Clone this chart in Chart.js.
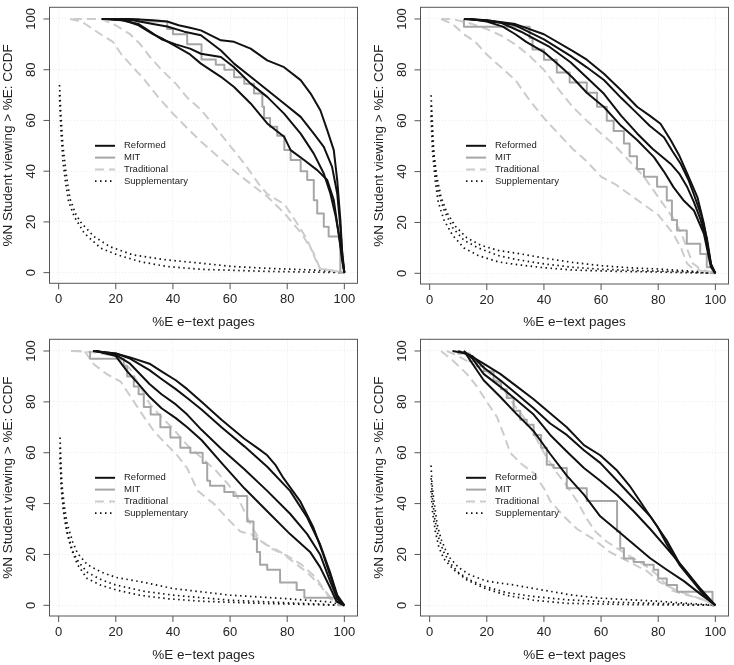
<!DOCTYPE html>
<html lang="en">
<head>
<meta charset="UTF-8">
<title>CCDF of e-text pages viewed</title>
<script src="https://cdn.jsdelivr.net/npm/chart.js"></script>
<style>
  html, body { margin: 0; padding: 0; background: #fff; }
  .page { position: relative; width: 734px; height: 665px; }
  .panel { position: absolute; }
</style>
</head>
<body>
<div class="page">
  <div class="panel" style="left:0;top:0"><canvas id="p1" width="367" height="332"></canvas></div>
  <div class="panel" style="left:367px;top:0"><canvas id="p2" width="367" height="332"></canvas></div>
  <div class="panel" style="left:0;top:332px"><canvas id="p3" width="367" height="333"></canvas></div>
  <div class="panel" style="left:367px;top:332px"><canvas id="p4" width="367" height="333"></canvas></div>
</div>
<script>
// axes
const xTicks = [0, 20, 40, 60, 80, 100];
const yTicks = [0, 20, 40, 60, 80, 100];
const seriesNames = ['Reformed', 'MIT', 'Traditional', 'Supplementary'];
const xTitle = '%E e\u2212text pages';
const yTitle = '%N Student viewing > %E: CCDF';

// ---- panel 1 (top left), points are [%E, %N] ----
const p1Ref1 = [[15,100],[25,100],[33,99.5],[38,99],[42,97.5],[46,96.5],[49.8,95.5],[56.8,91.6],[61.4,91],[67.2,88.3],[73,83.7],[78.9,81],[84.7,75.9],[88.2,70.6],[91.6,64],[94,56.2],[96.3,48.3],[97.5,36.5],[98.6,20.8],[99.2,8.9],[100,0]];
const p1Ref2 = [[18,100],[26,99.5],[33,98],[38,97],[44,95],[49.8,93.6],[56.8,87.6],[61.4,82.4],[67.2,77.2],[73,72],[78.9,66.7],[84.7,61.4],[89.3,54.8],[92.8,49.6],[95.7,41.7],[97.5,31.2],[98.6,18],[99.3,6],[100,0]];
const p1Ref3 = [[16,100],[22,99.5],[28,98],[32,95],[36,92],[41,90],[46,88.3],[49.8,86.3],[56.8,85],[61.4,81],[67.2,74.5],[73,69.3],[78.9,62.7],[84.7,54.8],[89.3,46.9],[92.8,39.1],[95.1,31.2],[97,22],[98.5,12],[100,0]];
const p1Ref4 = [[17,100],[23,99.5],[28,97.5],[33,94],[36.7,92],[41.4,89],[46,86],[49.8,82.4],[56.8,77.2],[61.4,73.2],[67.2,66.7],[73,58.8],[78.9,53.6],[81.2,48.3],[85.9,44.4],[90.5,40.4],[94,36.5],[96.3,28.6],[98,15.5],[99.2,5],[100,0]];
const p1Mit1 = [[15,100],[28,100],[38,99],[40,96],[45,94],[50,90],[55,84],[58,82],[61.4,80],[65,77],[68.4,74.5],[71.3,70.6],[71.9,65.4],[74,61],[76.5,57.5],[79,54],[81.2,48.3],[84.7,44.4],[87,40],[89.3,36.5],[90.5,28.5],[92.8,23.3],[94.5,18.1],[95.7,14.2],[98.6,14.2],[100,0]];
const p1Trad1 = [[5,100],[15,100],[20,97.5],[25,94],[28.6,90],[32,85],[36,80],[41,74.5],[45,69],[50,64],[55,57],[60,50],[65,43],[70,35],[73,31],[79,27],[83.5,19.4],[87,13],[90,5],[91.5,1.5],[95,1],[100,0]];
const p1Trad2 = [[4,100],[8,99],[12,96],[16,93],[19,91],[22,86],[26,81],[29.7,76.5],[35,69],[40,62.7],[45,57],[50,51.5],[57,44.5],[64,37.8],[73,30],[79,23.4],[85,15.5],[89.3,7.6],[91.5,1.5],[95,1],[100,0]];
const p1Supp1 = [[0.3,74],[0.8,62],[1.5,50],[2.5,40],[4,29],[6,23],[8,19.5],[12.4,14.2],[18,10.2],[26,7],[38,5],[50,3.7],[61,2.4],[73,1.7],[90,1],[100,0]];
const p1Supp2 = [[0.3,70],[0.8,56],[1.5,44],[2.5,35],[3.5,28],[5.5,22],[9,15.5],[14.8,9.6],[20.6,7],[28.7,4.3],[38,2.4],[50,1.3],[73,0.5],[100,0]];

// ---- panel 2 (top right) ----
const p2Ref1 = [[12,100],[20,99.5],[30,98],[40,94],[50,87.5],[55,84],[61,78.5],[67,72],[72.7,65.4],[77,62],[80.8,58.8],[84.4,52.3],[87.5,46],[90.2,39.1],[93.7,30],[96,19.5],[98.4,3.7],[100,0]];
const p2Ref2 = [[12,100],[20,99.5],[30,97.5],[40,92],[49.3,85.5],[55,81],[61,76],[67,69],[72.7,62.8],[77,58],[82,53.5],[85,48],[87.9,43],[90.5,37],[92.5,31],[95,23],[97,14],[98.6,3],[100,0]];
const p2Ref3 = [[14,100],[25,98.5],[32,95],[37,92],[42,89],[49.3,83],[55,77],[61,70.6],[67,62],[72.7,54.9],[78,49],[84.4,43],[87.5,39],[90.2,33.8],[92.5,28],[94.9,20.9],[97,12],[98.4,3.7],[100,0]];
const p2Ref4 = [[14,100],[20,99],[25.6,97],[30,94],[33.8,91],[40,87],[46.6,80.5],[50,77],[55,71],[61,65.4],[67,58],[72.7,52.3],[78.5,45.7],[82,40],[85.4,33.8],[89,28.5],[92.5,24.7],[96,15.5],[98.4,2.6],[100,0]];
const p2Mit1 = [[12,100],[35,97],[36,92.5],[40,88],[44.5,84],[49,79],[55,75],[58.6,71],[62,65.5],[64.4,60],[68,56],[70,51],[72.6,46],[75,41],[79.6,38],[83,34],[84.8,28.6],[86.6,21],[90,16.8],[94.7,11.6],[97,7.6],[99,2.4],[100,0]];
const p2Trad1 = [[4,100],[8,100],[15,98],[20,96],[25,93.5],[30,90],[35,85.5],[40,80],[45,72.5],[50,65.5],[55,60],[60,55],[65,50],[70,44],[75,38],[80,30],[85,22],[88,16],[90,10],[92,4],[95,1.5],[100,0]];
const p2Trad2 = [[4,100],[8,98],[12,94],[16,91],[20,86],[25,81],[30,76],[35,68],[40,61],[45,55],[50,49],[55,44],[60,38],[65,35],[70,31],[75,27],[80,23],[85,16],[88,10],[90,4],[92,2],[95,1],[100,0]];
const p2Supp1 = [[0.5,70],[1,58],[1.5,47],[2.5,38],[4,30],[6,24],[9,18.5],[13,14],[18,11],[24,9],[30,8],[40,6],[50,4.3],[60,3],[70,2.2],[80,1.7],[90,1],[100,0]];
const p2Supp2 = [[0.5,66],[1,52],[2,40],[3,32],[5,25],[8,18],[12,13],[17,10],[24,7],[30,5.5],[40,3.7],[50,2.4],[60,1.6],[75,1],[90,0.6],[100,0]];
const p2Supp3 = [[0.5,62],[1,48],[2,36],[3,28],[5,21],[8,15],[12,10],[17,7],[24,4.5],[30,3.5],[40,2.2],[50,1.3],[65,0.8],[80,0.5],[100,0]];

// ---- panel 3 (bottom left) ----
const p3Ref1 = [[12,100],[20,99],[25,97.5],[31.8,95],[36,92],[41,88.5],[45,85],[50,80],[57,73],[65,65.5],[70,61.5],[73,59],[76,55],[78.7,50],[84.5,41],[89.2,30.5],[92.6,20],[96.1,8],[98.4,1],[100,0]];
const p3Ref2 = [[12,100],[20,99],[25,97],[31.8,92.5],[36,89],[41,85],[45,81.5],[50,77],[57,70],[65,62.5],[73,54.5],[81,45],[87,34.5],[91.5,24],[95,13],[97.5,4],[100,0]];
const p3Ref3 = [[13,100],[20,98.5],[25,95],[31.8,87],[36,83],[41,79],[45,75],[50,69],[57,61.5],[65,53.5],[73,45],[81,36],[87,28],[91.5,20],[95,9.5],[97.5,2.6],[100,0]];
const p3Ref4 = [[13,100],[20,98],[24,92],[28,87],[31.8,82],[36,77.5],[41,73.6],[45,70],[50,65],[57,56],[65,46],[73,37],[81,28],[88,21],[91.5,15],[95,7],[97.3,1.5],[100,0]];
const p3Mit1 = [[11,100],[22.8,97],[24,94],[26.3,90],[28,86],[29.8,83],[32.2,78],[35.6,75],[39.1,70],[42.6,66],[46.1,62],[50.4,60],[52,56],[53,49],[58,47],[61.2,44.6],[66,43],[68.2,33],[69.4,26],[70.5,21],[73,16],[77.5,14],[83.3,9],[86,6],[88.5,3],[97,3],[98,1.5],[100,0]];
const p3Trad1 = [[4.3,100],[9,100],[12.4,94.7],[17,90.8],[21.7,88],[26.4,80],[29.9,74],[33.4,68.4],[38,63],[41.5,59],[45,53.9],[48.7,45],[52,42],[54.3,40],[59,34.2],[63.6,29],[68.3,27.6],[73,23.7],[77.6,21],[82.2,17],[86.9,13],[91.5,7.9],[95,2.6],[100,0]];
const p3Trad2 = [[5,100],[12,99.5],[20,98],[25,93],[28,87],[32,79],[36,74],[40,69.5],[45,63],[50,58],[55,53],[59,48],[62,44],[65,37],[68,30],[71,25],[75,22],[80,19.5],[85,16],[90,11],[93,6],[96,2],[100,0]];
const p3Supp1 = [[0.5,66],[0.8,55],[1.2,47],[2,39],[3,32],[4.9,25],[6.6,20.5],[10,16],[15,13],[20,11],[30,9],[40,6.6],[50,5.3],[60,4],[80,2.6],[95,1.3],[100,0]];
const p3Supp2 = [[0.5,62],[0.8,50],[1.3,42],[2,35],[3.2,28],[5,21],[7,17],[10,13],[15,10],[20,8],[30,5.5],[40,4],[60,2],[80,1],[100,0]];
const p3Supp3 = [[0.5,58],[1,45],[1.8,36],[3,28],[4.5,22],[6.6,16],[10,10.5],[14.8,7.9],[20.6,5.9],[28.7,3.9],[38,2.6],[50,1.6],[73,0.7],[100,0]];

// ---- panel 4 (bottom right) ----
const p4Ref1 = [[8,100],[13,99],[18.9,95],[24.7,91],[30.6,86],[36.4,81],[42.2,75.5],[48,70],[54,63],[59.7,59],[65.6,53],[70,47],[73,42],[76,37],[79.7,31],[83,24],[87.7,15.5],[92.4,9],[96,4],[100,0]];
const p4Ref2 = [[10,100],[15,98],[18.9,93.5],[24.7,88.5],[30.6,83],[36.4,77.5],[42.2,71.5],[48,67],[54,61],[59.7,56],[65.6,49],[71.4,42],[77.2,35],[83,25.5],[87.7,16],[92.4,9.5],[96,4.5],[100,0]];
const p4Ref3 = [[12,100],[15,97],[18.9,91],[24.7,86],[30.6,80.5],[36.4,75],[42.2,67],[48,60.5],[54,54],[59.7,49],[65.6,43.4],[71.4,37],[77.2,30],[83,22.5],[89,14.5],[94.7,6.6],[100,0]];
const p4Ref4 = [[12,100],[15,95],[18.9,88.5],[24.7,82],[30.6,75],[36.4,68.5],[42.2,59.5],[48,51],[54,43.5],[59.7,35],[65.6,29.5],[71.4,24],[77.2,18.5],[83,14],[89,9.5],[94.7,4.5],[100,0]];
const p4Mit1 = [[10,100],[14,99],[16.6,96],[19,94],[22.4,92],[25,88],[27,85],[29.4,81.5],[31.7,76.5],[34,73],[36.4,71],[39,67],[41,62],[43.4,55.3],[48,54],[50.4,46],[55,46],[57.4,41],[65.6,41],[66.7,29],[68,22.4],[71.4,18.4],[75,17],[78.4,16],[80,14],[83,10.5],[86.6,8],[90,5.3],[99,5.3],[100,0]];
const p4Trad1 = [[4,100],[8.4,96],[13,91],[16.6,86],[20,80],[23.6,74],[26,67],[28.2,60],[31.7,56],[36.4,52],[40,46],[42.2,41],[47,35],[51.6,30],[57.4,26],[63,21],[70,17],[76,13.5],[80.7,9],[87.7,5.3],[94.7,2.6],[100,0]];
const p4Trad2 = [[6,100],[10,98],[15,95],[20,92],[24.7,87],[29.4,79],[34,72.4],[37.6,65],[41,58],[44.6,52],[48,47],[51.6,41],[55,34],[58,29],[62,25],[69,20],[75,16],[79.6,12],[84.5,6],[90,4],[95,2.6],[100,0]];
const p4Supp1 = [[0.5,55],[0.8,48],[1.4,42],[2.6,32],[4,26],[5.5,22],[7.2,18.5],[10,15],[14,12],[20,9.5],[30,7.9],[40,5.9],[50,4],[60,2.8],[80,1.6],[100,0]];
const p4Supp2 = [[0.5,50],[1,42],[1.8,34],[3,27],[4.9,21],[7.2,16.5],[10,13],[14,10],[19,7.5],[27,5],[36,3.5],[48,2.2],[65,1.2],[85,0.6],[100,0]];
const p4Supp3 = [[0.5,45],[1,37],[2,29],[3.2,23],[4.9,18.4],[8.4,14],[13,10],[19,6.8],[27,3.9],[36.4,2],[48,0.8],[70,0.3],[100,0]];

// line look for each group
const FONT = "'Liberation Sans', Arial, Helvetica, sans-serif";
const styles = {
  Reformed:      { color: '#111111', width: 2, dash: [] },
  MIT:           { color: '#a6a6a6', width: 2, dash: [], stepped: 'after' },
  Traditional:   { color: '#cccccc', width: 2, dash: [9, 5] },
  Supplementary: { color: '#111111', width: 1.7, dash: [1.5, 3.5] }
};

// panel layout: plot box in canvas pixels
const panels = [
  { id: 'p1', padLeft: 0, box: { left: 49.5, right: 357.5, top: 7.3, bottom: 283.3 },
    groups: { Reformed: [p1Ref1, p1Ref2, p1Ref3, p1Ref4], MIT: [p1Mit1], Traditional: [p1Trad1, p1Trad2], Supplementary: [p1Supp1, p1Supp2] } },
  { id: 'p2', padLeft: 4, box: { left: 53.5, right: 361.5, top: 7.3, bottom: 284 },
    groups: { Reformed: [p2Ref1, p2Ref2, p2Ref3, p2Ref4], MIT: [p2Mit1], Traditional: [p2Trad1, p2Trad2], Supplementary: [p2Supp1, p2Supp2, p2Supp3] } },
  { id: 'p3', padLeft: 0, box: { left: 49.5, right: 357.5, top: 7.3, bottom: 284 },
    groups: { Reformed: [p3Ref1, p3Ref2, p3Ref3, p3Ref4], MIT: [p3Mit1], Traditional: [p3Trad1, p3Trad2], Supplementary: [p3Supp1, p3Supp2, p3Supp3] } },
  { id: 'p4', padLeft: 4, box: { left: 53.5, right: 361.5, top: 7.3, bottom: 284 },
    groups: { Reformed: [p4Ref1, p4Ref2, p4Ref3, p4Ref4], MIT: [p4Mit1], Traditional: [p4Trad1, p4Trad2], Supplementary: [p4Supp1, p4Supp2, p4Supp3] } }
];

// R-style frame, outside ticks, rotated y labels and in-plot legend
const framePlugin = {
  id: 'frame',
  afterDraw(chart) {
    const { ctx, chartArea: a, scales: { x, y } } = chart;
    ctx.save();
    ctx.strokeStyle = '#555';
    ctx.lineWidth = 1;
    ctx.setLineDash([]);
    ctx.strokeRect(a.left, a.top, a.right - a.left, a.bottom - a.top);

    ctx.fillStyle = '#222';
    ctx.font = '13px ' + FONT;
    ctx.textAlign = 'center';
    ctx.textBaseline = 'middle';
    xTicks.forEach(v => {
      const px = x.getPixelForValue(v);
      ctx.beginPath();
      ctx.moveTo(px, a.bottom);
      ctx.lineTo(px, a.bottom + 6);
      ctx.stroke();
      ctx.fillText(String(v), px, a.bottom + 16);
    });
    yTicks.forEach(v => {
      const py = y.getPixelForValue(v);
      ctx.beginPath();
      ctx.moveTo(a.left, py);
      ctx.lineTo(a.left - 6, py);
      ctx.stroke();
      ctx.save();
      ctx.translate(a.left - 18, py);
      ctx.rotate(-Math.PI / 2);
      ctx.fillText(String(v), 0, 0);
      ctx.restore();
    });

    // legend
    const lx = a.left + 45.5;
    ctx.font = '9.5px ' + FONT;
    ctx.textAlign = 'left';
    seriesNames.forEach((name, i) => {
      const st = styles[name];
      const ly = a.top + 138.5 + i * 11.8;
      ctx.strokeStyle = st.color;
      ctx.lineWidth = st.width;
      ctx.setLineDash(st.dash);
      ctx.beginPath();
      ctx.moveTo(lx, ly);
      ctx.lineTo(lx + 20, ly);
      ctx.stroke();
      ctx.fillText(name, lx + 29, ly);
    });
    ctx.restore();
  }
};

function makeChart(p) {
  const canvas = document.getElementById(p.id);
  const W = canvas.width, H = canvas.height;
  const datasets = [];
  seriesNames.forEach(name => {
    const st = styles[name];
    p.groups[name].forEach(pts => {
      datasets.push({
        label: name,
        data: pts.map(([x, y]) => ({ x, y })),
        showLine: true,
        borderColor: st.color,
        borderWidth: st.width,
        borderDash: st.dash,
        stepped: st.stepped || false,
        pointRadius: 0,
        fill: false
      });
    });
  });

  return new Chart(canvas, {
    type: 'scatter',
    data: { datasets },
    options: {
      responsive: false,
      animation: false,
      events: [],
      layout: { padding: { left: p.padLeft, top: p.box.top, right: W - p.box.right, bottom: 0 } },
      plugins: { legend: { display: false }, tooltip: { enabled: false } },
      elements: { line: { tension: 0, borderCapStyle: 'butt', borderJoinStyle: 'round' } },
      scales: {
        x: {
          type: 'linear', min: -3.2, max: 104.6,
          afterBuildTicks: s => { s.ticks = xTicks.map(v => ({ value: v })); },
          afterFit: s => { s.height = H - p.box.bottom; },
          ticks: { display: false },
          grid: { color: '#ececec', drawTicks: false, lineWidth: 1 },
          border: { display: false, dash: [1, 2] },
          title: { display: true, text: xTitle, color: '#222', font: { family: FONT, size: 13.5 }, padding: { top: 0, bottom: 2 } }
        },
        y: {
          type: 'linear', min: -4.2, max: 104.6,
          afterBuildTicks: s => { s.ticks = yTicks.map(v => ({ value: v })); },
          afterFit: s => { s.width = p.box.left - p.padLeft; },
          ticks: { display: false },
          grid: { color: '#ececec', drawTicks: false, lineWidth: 1 },
          border: { display: false, dash: [1, 2] },
          title: { display: true, text: yTitle, color: '#222', font: { family: FONT, size: 13.5 }, padding: { top: 0.5, bottom: 0 } }
        }
      }
    },
    plugins: [framePlugin]
  });
}

panels.forEach(makeChart);
</script>
</body>
</html>
